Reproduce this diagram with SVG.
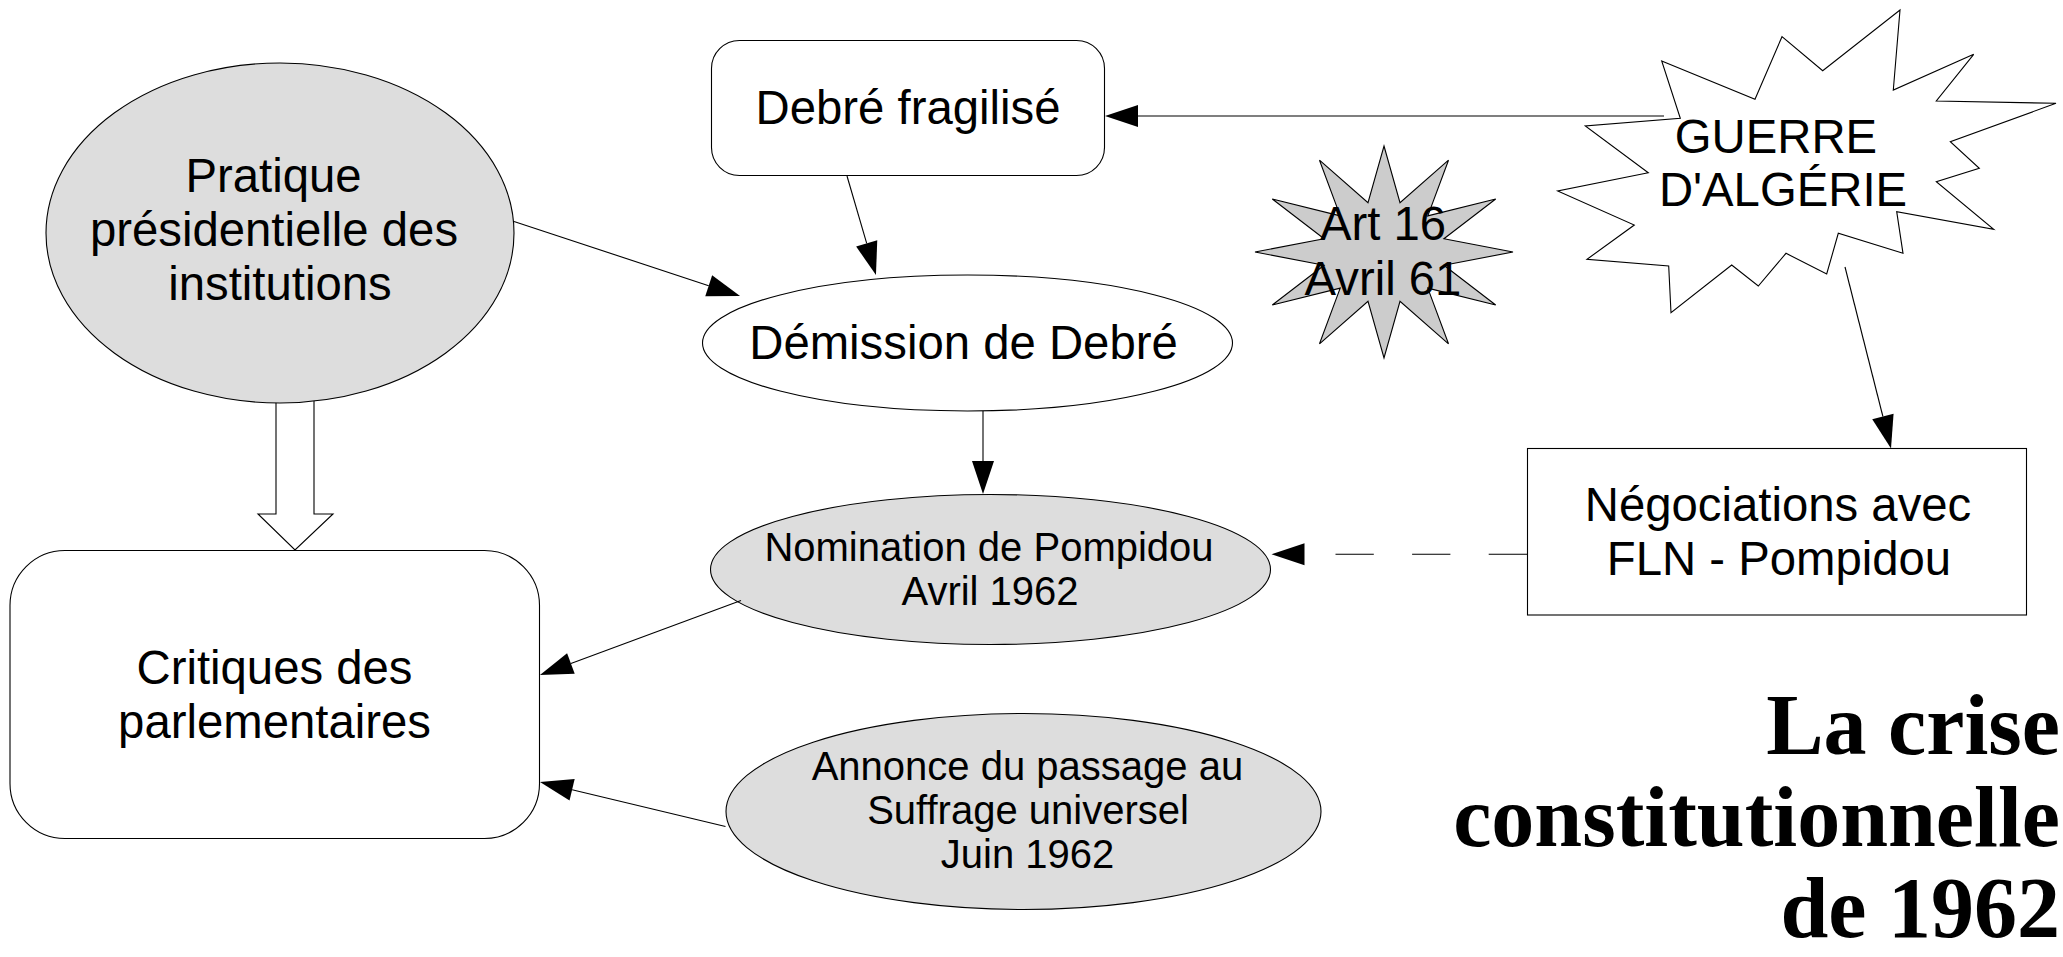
<svg xmlns="http://www.w3.org/2000/svg" width="2063" height="957" viewBox="0 0 2063 957">
<style>
.s{stroke:#000;stroke-width:1.1}
.w{fill:#fff}
.g{fill:#dddddd}
.t{font-family:"Liberation Sans",Arial,sans-serif;font-size:47.3px;fill:#000;text-anchor:middle}
.t2{font-family:"Liberation Sans",Arial,sans-serif;font-size:40px;fill:#000;text-anchor:middle}
.title{font-family:"Liberation Serif","Times New Roman",serif;font-size:86px;font-weight:bold;fill:#000;text-anchor:end}
.c{fill:none;stroke:#000;stroke-width:1.1}
</style>
<defs>
<marker id="ah" markerUnits="userSpaceOnUse" markerWidth="34" markerHeight="23" refX="0" refY="11" orient="auto" overflow="visible"><path d="M0,0 L33,11 L0,22 z" fill="#000"/></marker>
</defs>
<rect width="2063" height="957" fill="#fff"/>

<g id="hollow-arrow">
<polygon class="s w" points="276,398 276,514 258,514 295,550 333,514 314,514 314,398"/>
</g>

<g id="pratique">
<ellipse class="s g" cx="280" cy="233" rx="234" ry="170"/>
<text class="t" x="273.5" y="191.5">Pratique</text>
<text class="t" x="274" y="245.5">présidentielle des</text>
<text class="t" x="280" y="300">institutions</text>
</g>

<g id="debre-fragilise">
<rect class="s w" x="711.5" y="40.5" width="393" height="135" rx="28" ry="28"/>
<text class="t" x="908" y="124">Debré fragilisé</text>
</g>

<g id="demission">
<ellipse class="s w" cx="967.5" cy="343" rx="265" ry="68"/>
<text class="t" x="963.5" y="359">Démission de Debré</text>
</g>

<g id="art16">
<polygon class="s" fill="#cccccc" points="1384,146 1400,202.7 1448.5,160.2 1427.8,215.9 1495.7,199 1443.9,238.8 1513,252 1443.9,265.2 1495.7,305 1427.8,288.1 1448.5,343.8 1400,301.3 1384,358 1368,301.3 1319.5,343.8 1340.2,288.1 1272.3,305 1324.1,265.2 1255,252 1324.1,238.8 1272.3,199 1340.2,215.9 1319.5,160.2 1368,202.7"/>
<text class="t" x="1383" y="240">Art 16</text>
<text class="t" x="1383" y="295">Avril 61</text>
</g>

<g id="guerre">
<polygon class="s w" points="1661.7,61 1755,99.3 1782,36.7 1822.7,70.7 1900,10 1893.3,90 1973.7,54.3 1936.3,101 2056,103.3 1950.3,141.7 1979.3,168.3 1936.3,181.7 1993.7,229.3 1896.7,211.7 1903,253.3 1838.3,233.3 1826.7,274 1786,253.3 1758.3,286 1731.7,265 1671,312.7 1668.7,266 1587,259.3 1634.3,225 1557.7,191 1648.3,172.7 1585.3,126 1680.3,118.3"/>
<text class="t" x="1776" y="152.7">GUERRE</text>
<text class="t" x="1783" y="206">D'ALGÉRIE</text>
</g>

<g id="negociations">
<rect class="s w" x="1527.5" y="448.5" width="499" height="166.5"/>
<text class="t" x="1778" y="520.7">Négociations avec</text>
<text class="t" x="1779" y="575">FLN - Pompidou</text>
</g>

<g id="nomination">
<ellipse class="s g" cx="990.5" cy="569.5" rx="280" ry="75"/>
<text class="t2" x="989" y="561">Nomination de Pompidou</text>
<text class="t2" x="990" y="605">Avril 1962</text>
</g>

<g id="annonce">
<ellipse class="s g" cx="1023.5" cy="811.5" rx="297.5" ry="98"/>
<text class="t2" x="1027.4" y="780">Annonce du passage au</text>
<text class="t2" x="1028" y="824">Suffrage universel</text>
<text class="t2" x="1027.5" y="868.3">Juin 1962</text>
</g>

<g id="critiques">
<rect class="s w" x="10" y="550.5" width="529.5" height="288" rx="55" ry="55"/>
<text class="t" x="274.5" y="683.5">Critiques des</text>
<text class="t" x="274.5" y="737.5">parlementaires</text>
</g>

<g id="title">
<text class="title" x="2060" y="754">La crise</text>
<text class="title" x="2060" y="846">constitutionnelle</text>
<text class="title" x="2060" y="937">de 1962</text>
</g>

<g id="connectors">
<line class="c" x1="1664" y1="116" x2="1138" y2="116" marker-end="url(#ah)"/>
<line class="c" x1="847" y1="176" x2="866.7" y2="243.4" marker-end="url(#ah)"/>
<line class="c" x1="514" y1="221.5" x2="708.7" y2="285.7" marker-end="url(#ah)"/>
<line class="c" x1="983" y1="411" x2="983" y2="461" marker-end="url(#ah)"/>
<line class="c" x1="1845" y1="267" x2="1882.9" y2="416.5" marker-end="url(#ah)"/>
<line class="c" x1="1527" y1="554.3" x2="1304.5" y2="554.3" stroke-dasharray="38.3 38.3" marker-end="url(#ah)"/>
<line class="c" x1="741" y1="600.5" x2="570.9" y2="663.5" marker-end="url(#ah)"/>
<line class="c" x1="725.5" y1="826.5" x2="572.1" y2="789.7" marker-end="url(#ah)"/>
</g>
</svg>
